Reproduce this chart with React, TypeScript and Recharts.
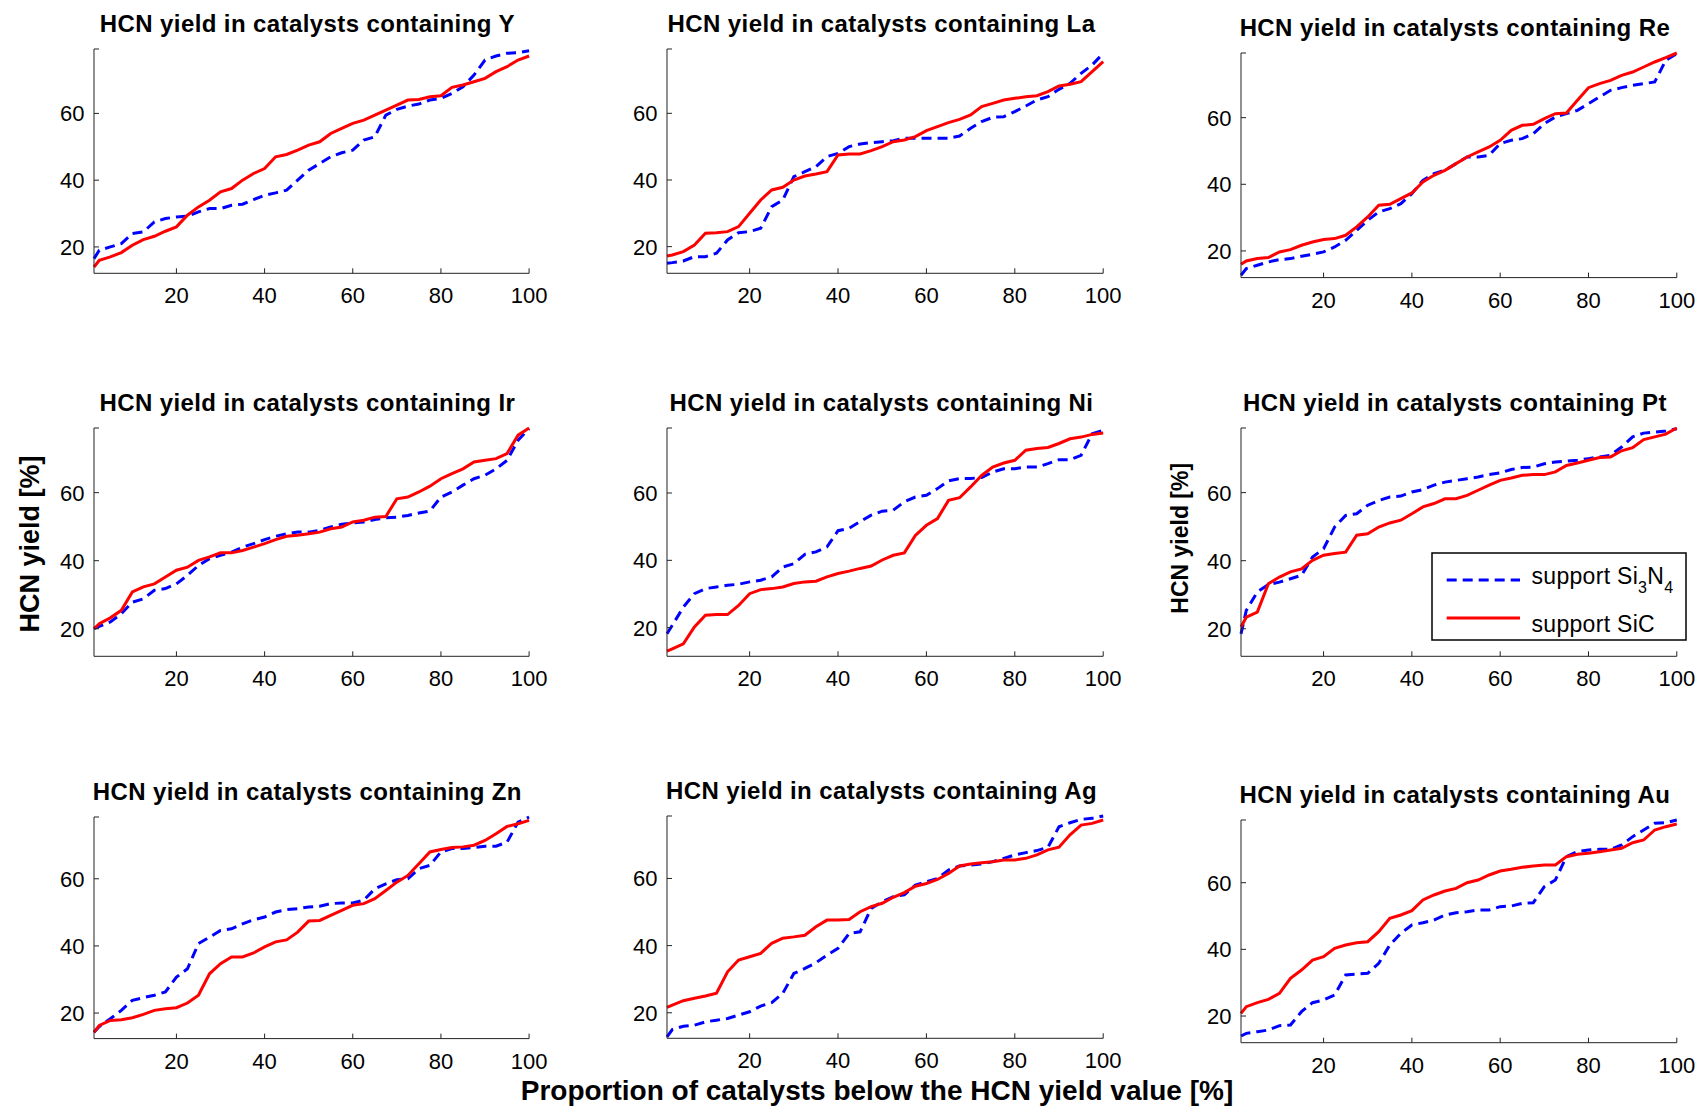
import React from 'react';
import { LineChart, Line, XAxis, YAxis } from 'recharts';

// ---------- data ----------
const X = [1.3, 2.5, 5, 7.5, 10, 12.5, 15, 17.5, 20, 22.5, 25, 27.5, 30, 32.5, 35, 37.5, 40, 42.5, 45, 47.5, 50, 52.5, 55, 57.5, 60, 62.5, 65, 67.5, 70, 72.5, 75, 77.5, 80, 82.5, 85, 87.5, 90, 92.5, 95, 97.5, 100];

const X_TICKS = [20, 40, 60, 80, 100];
const Y_TICKS = [20, 40, 60];

const Y_Si3N4 = [16.5, 19, 20, 21, 24, 24.5, 27.5, 28.5, 29, 29.2, 30.5, 31.5, 31.5, 32.5, 32.8, 34.2, 35.5, 36.2, 37, 40, 43, 45, 47, 48.2, 49, 52, 53, 59.5, 61.2, 62.2, 62.8, 64, 64.5, 66, 68, 71.5, 76, 77.2, 78, 78.2, 78.8];
const Y_SiC = [14, 16, 17, 18.3, 20.5, 22.2, 23.2, 24.7, 26, 29.5, 32, 34, 36.5, 37.5, 40, 42, 43.5, 47, 47.7, 49, 50.5, 51.5, 54, 55.5, 57, 58, 59.5, 61, 62.5, 64, 64.2, 65, 65.3, 67.8, 68.5, 69.5, 70.5, 72.5, 74, 76, 77.2];

const La_Si3N4 = [15, 15.2, 15.7, 17, 17, 18, 22, 24.2, 24.5, 25.5, 32, 34, 41, 42.5, 44, 47, 48, 50, 50.8, 51.2, 51.5, 51.8, 52.5, 52.5, 52.5, 52.5, 52.5, 53.2, 55.5, 57.5, 58.8, 59, 60.5, 62.2, 64, 65, 67.2, 69, 72, 74.5, 78];
const La_SiC = [17.2, 17.5, 18.5, 20.5, 24, 24.2, 24.5, 26, 30, 34, 37, 37.8, 40, 41.2, 41.8, 42.5, 47.5, 47.8, 47.8, 48.8, 50, 51.5, 52, 53, 54.8, 56, 57.2, 58.2, 59.5, 62, 63, 64, 64.5, 65, 65.3, 66.5, 68.2, 68.7, 69.5, 72.5, 75.5];

const Re_Si3N4 = [12.7, 14.7, 15.7, 16.7, 17.4, 17.7, 18.4, 19, 19.7, 21.2, 23.2, 26.2, 29.2, 31.7, 32.7, 34.2, 37.2, 41.2, 43.2, 44.2, 46.2, 48.2, 48.2, 48.7, 52.2, 53.2, 53.7, 55.2, 58.2, 60.2, 61.2, 62.2, 64.2, 66.2, 68.2, 69, 69.7, 70.2, 70.7, 77.2, 79.2];
const Re_SiC = [16, 17, 17.7, 18, 19.7, 20.4, 21.7, 22.7, 23.4, 23.7, 24.7, 27.2, 30.2, 33.7, 34, 35.7, 37.4, 40.7, 42.7, 44.2, 46.2, 48.2, 49.7, 51.2, 53.2, 56.2, 57.7, 58, 59.7, 61.2, 61.4, 65.2, 69, 70.2, 71.2, 72.7, 73.7, 75.2, 76.7, 78, 79.4];

const Ir_Si3N4 = [20, 20.7, 22, 24.4, 27.8, 28.8, 31.3, 31.8, 33.2, 35.7, 38.6, 40.6, 41.6, 42.5, 44, 45, 46.2, 47.2, 47.9, 48.4, 48.4, 48.9, 49.9, 50.7, 51.1, 51.4, 52.1, 52.6, 52.8, 53.3, 54, 54.6, 58.7, 60.2, 62.2, 64.1, 65.1, 67, 69.5, 75.4, 78.8];
const Ir_SiC = [20, 21.5, 23.2, 25.4, 30.8, 32.3, 33.2, 35.2, 37.2, 38.1, 40.1, 41.1, 42.3, 42.3, 43, 44, 45, 46.2, 47.2, 47.5, 47.9, 48.4, 49.4, 49.9, 51.4, 51.9, 52.8, 53, 58.2, 58.7, 60.2, 61.9, 64.1, 65.6, 67, 69, 69.5, 70, 71.5, 76.9, 79];

const Ni_Si3N4 = [18.2, 20.7, 26.1, 30.1, 31.6, 32.1, 32.6, 32.9, 33.6, 34.1, 35.1, 38, 39, 41.8, 42.5, 44, 48.8, 49.5, 51.5, 53.4, 54.6, 54.9, 57.4, 58.8, 59.3, 61.3, 63.6, 64.3, 64.3, 64.6, 66.2, 67.2, 67.2, 67.7, 67.7, 68.7, 69.9, 69.9, 71.2, 77.6, 78.6];
const Ni_SiC = [13, 13.7, 15.2, 20.2, 23.7, 23.9, 23.9, 26.6, 30.1, 31.3, 31.6, 32.1, 33.1, 33.6, 33.8, 35.1, 36.1, 36.8, 37.6, 38.3, 40.1, 41.5, 42.2, 47.4, 50.4, 52.4, 57.8, 58.6, 61.8, 65.2, 67.7, 68.9, 69.7, 72.7, 73.2, 73.5, 74.7, 76.1, 76.6, 77.4, 77.8];

const Pt_Si3N4 = [18.5, 25.4, 30.8, 33, 33.7, 34.7, 35.7, 41.1, 43.5, 49.9, 53.3, 53.8, 56.3, 57.7, 58.7, 59, 60.2, 60.9, 62.2, 63.1, 63.6, 64.1, 64.6, 65.3, 65.8, 66.8, 67.4, 67.5, 68.5, 69, 69.3, 69.5, 70, 70.5, 71, 73.4, 76.4, 77.5, 77.8, 78.1, 78.8];
const Pt_SiC = [20.5, 23.4, 24.9, 33.2, 35.2, 36.7, 37.6, 40.1, 41.6, 42.1, 42.5, 47.5, 47.9, 49.9, 51.1, 51.9, 53.8, 55.8, 56.8, 58.2, 58.2, 59.2, 60.7, 62.2, 63.6, 64.3, 65.1, 65.3, 65.3, 66.1, 68, 68.7, 69.5, 70.3, 70.5, 72.3, 73.2, 75.6, 76.4, 77.2, 79];

const Zn_Si3N4 = [14.3, 16, 18.3, 20.8, 23.8, 24.6, 25.3, 26.3, 30.7, 33.2, 40.7, 42.6, 44.6, 45.1, 46.6, 47.8, 48.6, 50.1, 50.8, 51.1, 51.6, 51.8, 52.6, 52.8, 52.8, 53.6, 57, 58.5, 59.7, 60, 63, 64, 68, 69, 69, 69.3, 69.7, 69.7, 70.9, 76.9, 78.4];
const Zn_SiC = [14.3, 16.3, 17.8, 18, 18.6, 19.6, 20.8, 21.3, 21.6, 23, 25.3, 31.7, 34.7, 36.7, 36.7, 37.9, 39.7, 41.2, 41.8, 44.1, 47.4, 47.6, 49.1, 50.6, 52.1, 52.6, 54.1, 56.5, 59, 61, 64.5, 68, 68.7, 69.3, 69.5, 70, 71.4, 73.4, 75.6, 76.4, 77.4];

const Ag_Si3N4 = [12.8, 15, 16, 16.3, 17.3, 17.8, 18.3, 19.3, 20.3, 22, 23, 25.8, 31.7, 33.2, 34.9, 37.2, 39.2, 43.6, 44.1, 51.1, 53.1, 54.6, 55.1, 58, 59, 60, 62.5, 63.7, 64, 64.3, 65, 66, 67, 67.7, 68.3, 69.3, 75.4, 76.6, 77.6, 77.9, 78.6];
const Ag_SiC = [21.6, 22.3, 23.6, 24.3, 25, 25.8, 32.2, 35.7, 36.7, 37.7, 40.7, 42.2, 42.6, 43.1, 45.6, 47.6, 47.6, 47.8, 50.1, 51.6, 52.6, 54.4, 55.8, 57.7, 58.5, 59.7, 61.5, 63.7, 64.3, 64.7, 65, 65.5, 65.5, 66, 67, 68.5, 69.3, 73, 75.9, 76.4, 77.4];

const Au_Si3N4 = [14, 14.8, 15.3, 15.8, 17.1, 17.3, 21.3, 24, 24.8, 26.3, 32.3, 32.6, 32.8, 35.8, 41.3, 44.8, 47.3, 48, 48.8, 50.3, 51, 51.3, 51.8, 51.8, 52.8, 53, 53.8, 54, 58.8, 60.8, 67.8, 69.3, 69.8, 70, 70, 71.3, 73.8, 75.8, 77.8, 78, 78.8];
const Au_SiC = [20.8, 22.8, 24, 25, 26.8, 31.3, 33.8, 36.8, 37.8, 40.3, 41.3, 42, 42.3, 45.3, 49.3, 50.3, 51.6, 54.8, 56.3, 57.5, 58.3, 60, 60.8, 62.3, 63.5, 64, 64.6, 65, 65.3, 65.3, 67.8, 68.5, 68.8, 69.3, 69.8, 70.3, 72, 72.8, 75.8, 76.8, 77.6];

const SERIES_NAMES = ['support Si3N4', 'support SiC'];

// ---------- layout (plot-area boxes in page pixels) ----------
const PANELS = [
  { el: 'Y', blue: Y_Si3N4, red: Y_SiC, left: 93.8, top: 49, right: 528.9, bottom: 273.3, yMin: 12.1, yMax: 79.3 },
  { el: 'La', blue: La_Si3N4, red: La_SiC, left: 667.4, top: 49, right: 1103.6, bottom: 273.3, yMin: 12, yMax: 79.3 },
  { el: 'Re', blue: Re_Si3N4, red: Re_SiC, left: 1241, top: 52.7, right: 1676.8, bottom: 277.3, yMin: 12, yMax: 79.4 },
  { el: 'Ir', blue: Ir_Si3N4, red: Ir_SiC, left: 93.8, top: 427.7, right: 528.9, bottom: 656, yMin: 11.9, yMax: 79 },
  { el: 'Ni', blue: Ni_Si3N4, red: Ni_SiC, left: 667.4, top: 427.7, right: 1103.6, bottom: 656, yMin: 11.5, yMax: 79.3 },
  { el: 'Pt', blue: Pt_Si3N4, red: Pt_SiC, left: 1241, top: 427.7, right: 1676.8, bottom: 656, yMin: 11.9, yMax: 79 },
  { el: 'Zn', blue: Zn_Si3N4, red: Zn_SiC, left: 93.8, top: 816.7, right: 528.9, bottom: 1038.3, yMin: 12.4, yMax: 78.4 },
  { el: 'Ag', blue: Ag_Si3N4, red: Ag_SiC, left: 667.4, top: 816, right: 1103.6, bottom: 1038.3, yMin: 12.4, yMax: 78.6 },
  { el: 'Au', blue: Au_Si3N4, red: Au_SiC, left: 1241, top: 820, right: 1676.8, bottom: 1042.7, yMin: 12, yMax: 78.8 },
];

const FONT = '"Liberation Sans", Arial, Helvetica, sans-serif';
const AXIS = '#222';
const BLUE = '#0000ff';
const RED = '#ff0000';
const DASH = '10 6';

const ML = 70;
const MT = 10;
const MR = 32;
const MB = 45;

const XTick = (p: any) => {
  const { x, y, payload } = p;
  return (
    <g>
      <line x1={x} y1={y} x2={x} y2={y - 5} stroke={AXIS} strokeWidth={1} />
      <text x={x} y={y + 30} textAnchor="middle" fontSize={22} fontFamily={FONT} fill="#000">
        {payload.value}
      </text>
    </g>
  );
};

const YTick = (p: any) => {
  const { x, y, payload } = p;
  const show = Y_TICKS.indexOf(payload.value) >= 0;
  return (
    <g>
      <line x1={x} y1={y} x2={x + 5} y2={y} stroke={AXIS} strokeWidth={1} />
      {show && (
        <text x={x - 9.5} y={y} dy="0.36em" textAnchor="end" fontSize={22} fontFamily={FONT} fill="#000">
          {payload.value}
        </text>
      )}
    </g>
  );
};

function Panel({ cfg }: { cfg: any }) {
  const rows = X.map((x, i) => ({ x, si3n4: cfg.blue[i], sic: cfg.red[i] }));
  const w = cfg.right - cfg.left + ML + MR;
  const h = cfg.bottom - cfg.top + MT + MB;
  return (
    <div style={{ position: 'absolute', left: cfg.left - ML, top: cfg.top - MT, width: w, height: h }}>
      <LineChart width={w} height={h} data={rows} margin={{ top: MT, right: MR, bottom: 0, left: 0 }}>
        <XAxis
          dataKey="x"
          type="number"
          domain={[1.3, 100]}
          ticks={X_TICKS}
          interval={0}
          height={MB}
          tickSize={0}
          tickMargin={0}
          tickLine={false}
          axisLine={{ stroke: AXIS, strokeWidth: 1 }}
          tick={XTick}
        />
        <YAxis
          type="number"
          domain={[cfg.yMin, cfg.yMax]}
          ticks={[...Y_TICKS, cfg.yMax]}
          interval={0}
          width={ML}
          tickSize={0}
          tickMargin={0}
          tickLine={false}
          axisLine={{ stroke: AXIS, strokeWidth: 1 }}
          tick={YTick}
        />
        <Line
          type="linear"
          dataKey="si3n4"
          name={SERIES_NAMES[0]}
          stroke={BLUE}
          strokeWidth={3}
          strokeDasharray={DASH}
          dot={false}
          activeDot={false}
          isAnimationActive={false}
        />
        <Line
          type="linear"
          dataKey="sic"
          name={SERIES_NAMES[1]}
          stroke={RED}
          strokeWidth={3}
          dot={false}
          activeDot={false}
          isAnimationActive={false}
        />
      </LineChart>
    </div>
  );
}

export default function App() {
  return (
    <div
      style={{
        position: 'absolute',
        left: 0,
        top: 0,
        width: 1700,
        height: 1108,
        background: '#fff',
        overflow: 'hidden',
        fontFamily: FONT,
      }}
    >
      {PANELS.map((cfg) => (
        <Panel key={cfg.el} cfg={cfg} />
      ))}
      <svg
        width={1700}
        height={1108}
        style={{ position: 'absolute', left: 0, top: 0, pointerEvents: 'none' }}
        fontFamily={FONT}
      >
        {PANELS.map((cfg) => (
          <text
            key={'t' + cfg.el}
            x={(cfg.left + cfg.right) / 2 - 4}
            y={cfg.top - 17}
            textAnchor="middle"
            fontSize={24}
            fontWeight="bold"
            letterSpacing={0.4}
            fill="#000"
          >
            {'HCN yield in catalysts containing ' + cfg.el}
          </text>
        ))}
        <text transform="translate(39.3,544) rotate(-90)" textAnchor="middle" fontSize={27} fontWeight="bold" fill="#000">
          HCN yield [%]
        </text>
        <text transform="translate(1188,538.3) rotate(-90)" textAnchor="middle" fontSize={23} fontWeight="bold" fill="#000">
          HCN yield [%]
        </text>
        <text x={877} y={1100} textAnchor="middle" fontSize={28} fontWeight="bold" fill="#000">
          Proportion of catalysts below the HCN yield value [%]
        </text>
        {/* legend */}
        <rect x={1432} y={553} width={254} height={87} fill="#fff" stroke="#000" strokeWidth={1.5} />
        <line x1={1446.7} y1={580} x2={1520} y2={580} stroke={BLUE} strokeWidth={3} strokeDasharray={DASH} />
        <text x={1531.5} y={584} fontSize={23} letterSpacing={0.3} fill="#000">
          support Si
          <tspan dy={9} fontSize={16}>3</tspan>
          <tspan dy={-9}>N</tspan>
          <tspan dy={9} fontSize={16}>4</tspan>
        </text>
        <line x1={1446.7} y1={618} x2={1520} y2={618} stroke={RED} strokeWidth={3} />
        <text x={1531.5} y={632} fontSize={23} letterSpacing={0.3} fill="#000">
          support SiC
        </text>
      </svg>
    </div>
  );
}
